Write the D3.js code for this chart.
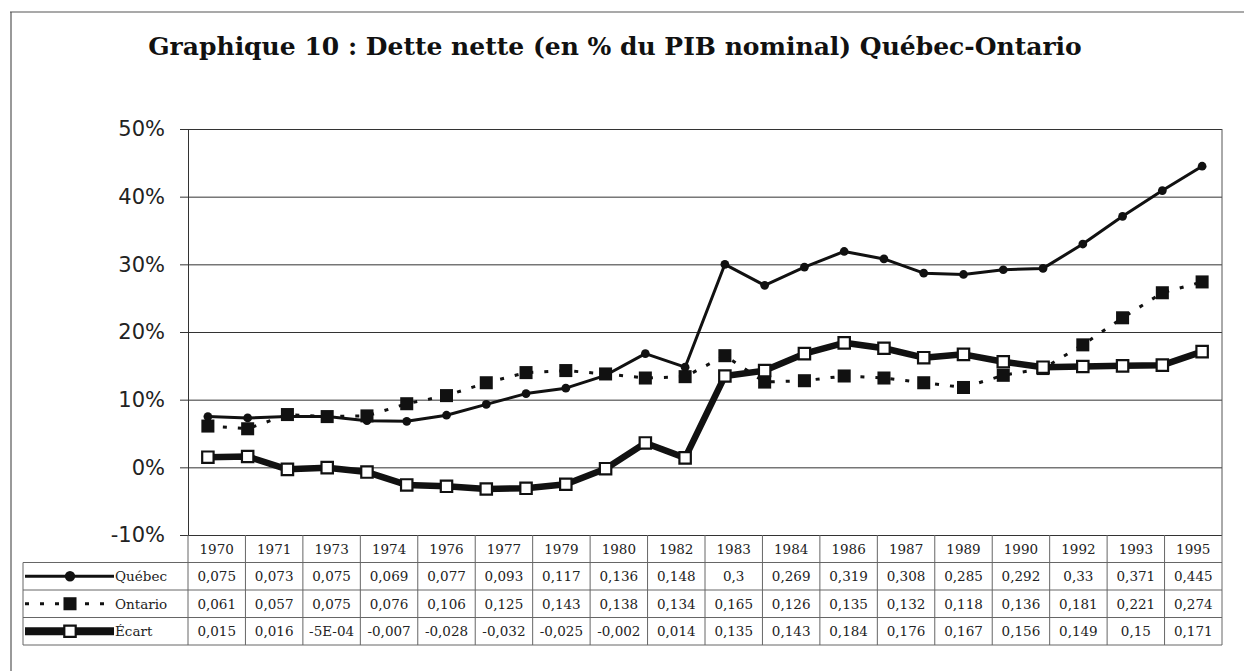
<!DOCTYPE html>
<html>
<head>
<meta charset="utf-8">
<script src="https://cdnjs.cloudflare.com/ajax/libs/d3/7.8.5/d3.min.js"></script>
<style>
  body { margin: 0; background: #fff; }
  svg { display: block; }
</style>
</head>
<body>
<svg width="1244" height="671"></svg>
<script>
// data (one point per year, the table only shows some years)
var years = [1970, 1971, 1972, 1973, 1974, 1975, 1976, 1977, 1978, 1979, 1980, 1981, 1982,
             1983, 1984, 1985, 1986, 1987, 1988, 1989, 1990, 1991, 1992, 1993, 1994, 1995];
var quebec = [0.075, 0.073, 0.075, 0.075, 0.069, 0.068, 0.077, 0.093, 0.109, 0.117, 0.136, 0.168, 0.148,
              0.300, 0.269, 0.296, 0.319, 0.308, 0.287, 0.285, 0.292, 0.294, 0.330, 0.371, 0.409, 0.445];
var ontario = [0.061, 0.057, 0.078, 0.075, 0.076, 0.094, 0.106, 0.125, 0.140, 0.143, 0.138, 0.132, 0.134,
               0.165, 0.126, 0.128, 0.135, 0.132, 0.125, 0.118, 0.136, 0.146, 0.181, 0.221, 0.258, 0.274];
var ecart = [0.015, 0.016, -0.003, -0.0005, -0.007, -0.026, -0.028, -0.032, -0.031, -0.025, -0.002, 0.036, 0.014,
             0.135, 0.143, 0.168, 0.184, 0.176, 0.162, 0.167, 0.156, 0.148, 0.149, 0.150, 0.151, 0.171];

// data table under the chart, as printed
var tableYears = ['1970', '1971', '1973', '1974', '1976', '1977', '1979', '1980', '1982',
                  '1983', '1984', '1986', '1987', '1989', '1990', '1992', '1993', '1995'];
var tableQuebec = ['0,075', '0,073', '0,075', '0,069', '0,077', '0,093', '0,117', '0,136', '0,148',
                   '0,3', '0,269', '0,319', '0,308', '0,285', '0,292', '0,33', '0,371', '0,445'];
var tableOntario = ['0,061', '0,057', '0,075', '0,076', '0,106', '0,125', '0,143', '0,138', '0,134',
                    '0,165', '0,126', '0,135', '0,132', '0,118', '0,136', '0,181', '0,221', '0,274'];
var tableEcart = ['0,015', '0,016', '-5E-04', '-0,007', '-0,028', '-0,032', '-0,025', '-0,002', '0,014',
                  '0,135', '0,143', '0,184', '0,176', '0,167', '0,156', '0,149', '0,15', '0,171'];
var yTicks = [-0.1, 0, 0.1, 0.2, 0.3, 0.4, 0.5];

var titleText = 'Graphique 10 : Dette nette (en % du PIB nominal) Québec-Ontario';

// zone du graphique
var plot = { left: 188, right: 1222, top: 129, bottom: 535 };
var rowH = 27.5;
var tableFont = 'DejaVu Serif';
var tableSize = '13.5px';

var svg = d3.select('svg');

// cadre
svg.append('line').attr('x1', 10).attr('x2', 1244).attr('y1', 12).attr('y2', 12)
  .attr('stroke', '#555').attr('stroke-width', 1.2);
svg.append('line').attr('x1', 11).attr('x2', 11).attr('y1', 12).attr('y2', 671)
  .attr('stroke', '#555').attr('stroke-width', 1.2);

// titre, ajusté à la largeur
var title = svg.append('text')
  .attr('x', 615).attr('y', 55)
  .attr('text-anchor', 'middle')
  .style('font-family', 'DejaVu Serif').style('font-weight', 'bold')
  .style('font-size', '20px').style('fill', '#111')
  .text(titleText);
var tw = title.node().getComputedTextLength();
title.style('font-size', (20 * 934 / tw) + 'px');

var x = d3.scaleBand().domain(years).range([plot.left, plot.right]);
var y = d3.scaleLinear().domain([-0.1, 0.5]).range([plot.bottom, plot.top]);
var cx = function(i) { return x(years[i]) + x.bandwidth() / 2; };

// grille
svg.append('g')
  .attr('transform', 'translate(' + plot.left + ',0)')
  .call(d3.axisLeft(y).tickValues(yTicks).tickSize(-(plot.right - plot.left)).tickFormat(''))
  .call(function(g) {
    g.select('.domain').remove();
    g.selectAll('line').attr('stroke', '#333').attr('stroke-width', 1);
  });

// axe y
svg.append('g')
  .attr('transform', 'translate(' + plot.left + ',0)')
  .call(d3.axisLeft(y).tickValues(yTicks).tickSize(8).tickPadding(15)
    .tickFormat(function(d) { return Math.round(d * 100) + '%'; }))
  .call(function(g) {
    g.select('.domain').attr('stroke', '#333');
    g.selectAll('line').attr('stroke', '#333');
    g.selectAll('text')
      .style('font-family', 'DejaVu Sans').style('font-size', '21px').style('fill', '#222');
  });

// bord droit
svg.append('line').attr('x1', plot.right).attr('x2', plot.right)
  .attr('y1', plot.top).attr('y2', plot.bottom).attr('stroke', '#555');

var line = d3.line()
  .x(function(d, i) { return cx(i); })
  .y(function(d) { return y(d); });

var series = [
  { name: 'Québec', values: quebec, table: tableQuebec, width: 3, dash: null,
    symbol: d3.symbolCircle, size: 60, fill: '#111', stroke: 'none', sw: 0 },
  { name: 'Ontario', values: ontario, table: tableOntario, width: 3, dash: '4,11',
    symbol: d3.symbolSquare, size: 170, fill: '#111', stroke: 'none', sw: 0 },
  { name: 'Écart', values: ecart, table: tableEcart, width: 6.5, dash: null,
    symbol: d3.symbolSquare, size: 130, fill: '#fff', stroke: '#111', sw: 2.2 }
];

series.forEach(function(s) {
  var g = svg.append('g');
  g.append('path')
    .attr('d', line(s.values))
    .attr('fill', 'none')
    .attr('stroke', '#111')
    .attr('stroke-width', s.width)
    .attr('stroke-dasharray', s.dash)
    .attr('stroke-linejoin', 'round');
  g.selectAll('path.pt')
    .data(s.values)
    .enter()
    .append('path')
    .attr('class', 'pt')
    .attr('d', d3.symbol().type(s.symbol).size(s.size))
    .attr('transform', function(d, i) { return 'translate(' + cx(i) + ',' + y(d) + ')'; })
    .attr('fill', s.fill)
    .attr('stroke', s.stroke)
    .attr('stroke-width', s.sw);
});

// tableau de données
var col = d3.scaleBand().domain(tableYears).range([plot.left, plot.right]);
var tTop = plot.bottom;
var legendLeft = 23;
var tableStroke = '#666';

var table = svg.append('g');

// ligne des années
table.selectAll('text.yr')
  .data(tableYears)
  .enter()
  .append('text')
  .attr('class', 'yr')
  .attr('x', function(d) { return col(d) + col.bandwidth() / 2; })
  .attr('y', tTop + rowH / 2 + 5)
  .attr('text-anchor', 'middle')
  .style('font-family', tableFont).style('font-size', tableSize).style('fill', '#222')
  .text(function(d) { return d; });

series.forEach(function(s, r) {
  var ry = tTop + rowH * (r + 1);
  var mid = ry + rowH / 2;
  table.selectAll('text.v' + r)
    .data(s.table)
    .enter()
    .append('text')
    .attr('class', 'v' + r)
    .attr('x', function(d, i) { return col(tableYears[i]) + col.bandwidth() / 2; })
    .attr('y', mid + 5)
    .attr('text-anchor', 'middle')
    .style('font-family', tableFont).style('font-size', tableSize).style('fill', '#222')
    .text(function(d) { return d; });

  // légende
  table.append('line')
    .attr('x1', legendLeft + 2).attr('x2', 114)
    .attr('y1', mid).attr('y2', mid)
    .attr('stroke', '#111')
    .attr('stroke-width', s.width + (r === 2 ? 1.5 : 0))
    .attr('stroke-dasharray', s.dash);
  table.append('path')
    .attr('d', d3.symbol().type(s.symbol).size(s.size * (r === 0 ? 1.4 : 1)))
    .attr('transform', 'translate(70,' + mid + ')')
    .attr('fill', s.fill).attr('stroke', s.stroke).attr('stroke-width', s.sw);
  table.append('text')
    .attr('x', 115).attr('y', mid + 5)
    .style('font-family', tableFont).style('font-size', tableSize).style('fill', '#222')
    .text(s.name);
});

// traits du tableau
var tBottom = tTop + rowH * 4;
[1, 2, 3, 4].forEach(function(r) {
  table.append('line')
    .attr('x1', legendLeft).attr('x2', plot.right)
    .attr('y1', tTop + rowH * r).attr('y2', tTop + rowH * r)
    .attr('stroke', tableStroke);
});
table.append('line').attr('x1', legendLeft).attr('x2', legendLeft)
  .attr('y1', tTop + rowH).attr('y2', tBottom).attr('stroke', tableStroke);
tableYears.concat(['end']).forEach(function(d, i) {
  var xx = i < tableYears.length ? col(d) : plot.right;
  table.append('line')
    .attr('x1', xx).attr('x2', xx)
    .attr('y1', tTop).attr('y2', tBottom)
    .attr('stroke', tableStroke);
});
</script>
</body>
</html>
